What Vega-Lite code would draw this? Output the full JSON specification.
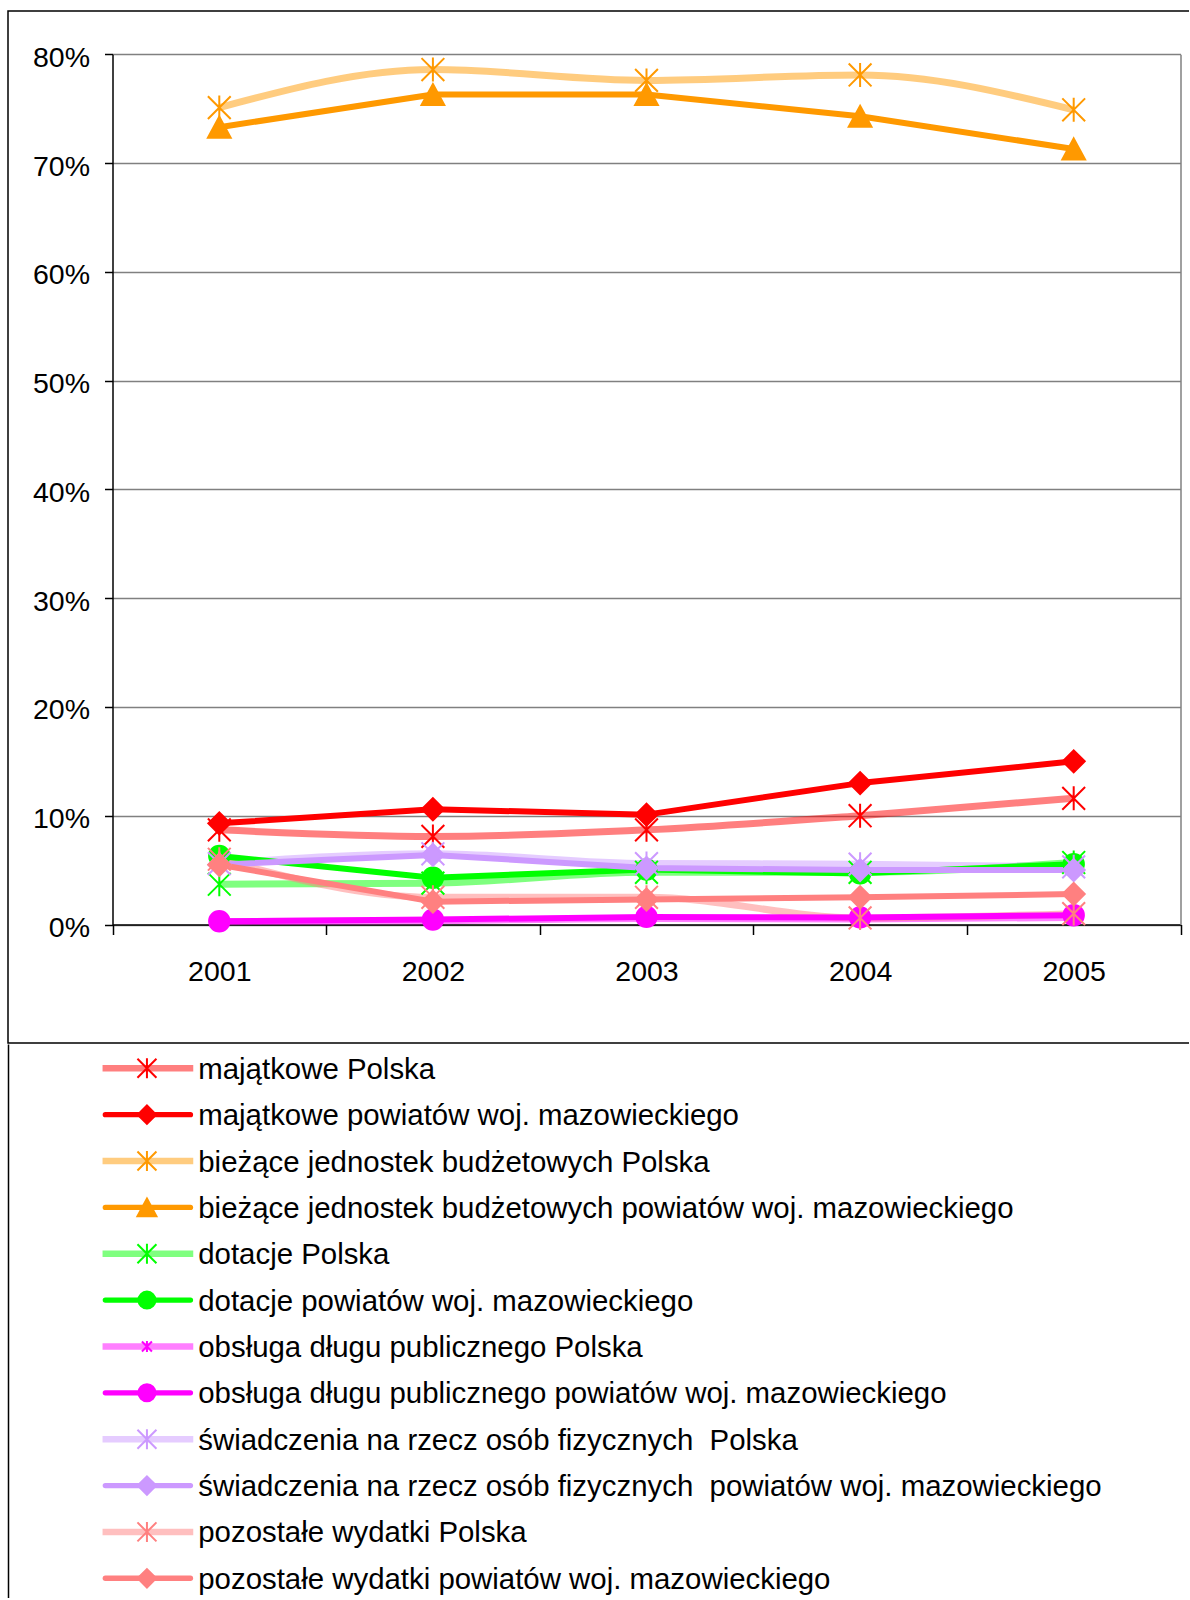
{
  "$schema": "https://vega.github.io/schema/vega-lite/v6.json",
  "padding": {"left": 7, "top": 10, "right": 0, "bottom": 0},
  "autosize": {"type": "pad"},
  "background": "white",
  "spacing": 0,
  "config": {"font": "Liberation Sans", "legend": {"disable": true}, "view": {"stroke": null}},
  "datasets": {
    "d": [
      {"series": "majątkowe Polska", "group": "Polska", "year": 2001, "value": 0.087},
      {"series": "majątkowe Polska", "group": "Polska", "year": 2002, "value": 0.081},
      {"series": "majątkowe Polska", "group": "Polska", "year": 2003, "value": 0.087},
      {"series": "majątkowe Polska", "group": "Polska", "year": 2004, "value": 0.100},
      {"series": "majątkowe Polska", "group": "Polska", "year": 2005, "value": 0.116},
      {"series": "majątkowe powiatów woj. mazowieckiego", "group": "powiat", "year": 2001, "value": 0.093},
      {"series": "majątkowe powiatów woj. mazowieckiego", "group": "powiat", "year": 2002, "value": 0.106},
      {"series": "majątkowe powiatów woj. mazowieckiego", "group": "powiat", "year": 2003, "value": 0.101},
      {"series": "majątkowe powiatów woj. mazowieckiego", "group": "powiat", "year": 2004, "value": 0.130},
      {"series": "majątkowe powiatów woj. mazowieckiego", "group": "powiat", "year": 2005, "value": 0.150},
      {"series": "bieżące jednostek budżetowych Polska", "group": "Polska", "year": 2001, "value": 0.751},
      {"series": "bieżące jednostek budżetowych Polska", "group": "Polska", "year": 2002, "value": 0.786},
      {"series": "bieżące jednostek budżetowych Polska", "group": "Polska", "year": 2003, "value": 0.776},
      {"series": "bieżące jednostek budżetowych Polska", "group": "Polska", "year": 2004, "value": 0.781},
      {"series": "bieżące jednostek budżetowych Polska", "group": "Polska", "year": 2005, "value": 0.749},
      {"series": "bieżące jednostek budżetowych powiatów woj. mazowieckiego", "group": "powiat", "year": 2001, "value": 0.733},
      {"series": "bieżące jednostek budżetowych powiatów woj. mazowieckiego", "group": "powiat", "year": 2002, "value": 0.763},
      {"series": "bieżące jednostek budżetowych powiatów woj. mazowieckiego", "group": "powiat", "year": 2003, "value": 0.763},
      {"series": "bieżące jednostek budżetowych powiatów woj. mazowieckiego", "group": "powiat", "year": 2004, "value": 0.743},
      {"series": "bieżące jednostek budżetowych powiatów woj. mazowieckiego", "group": "powiat", "year": 2005, "value": 0.713},
      {"series": "dotacje Polska", "group": "Polska", "year": 2001, "value": 0.037},
      {"series": "dotacje Polska", "group": "Polska", "year": 2002, "value": 0.038},
      {"series": "dotacje Polska", "group": "Polska", "year": 2003, "value": 0.048},
      {"series": "dotacje Polska", "group": "Polska", "year": 2004, "value": 0.048},
      {"series": "dotacje Polska", "group": "Polska", "year": 2005, "value": 0.057},
      {"series": "dotacje powiatów woj. mazowieckiego", "group": "powiat", "year": 2001, "value": 0.063},
      {"series": "dotacje powiatów woj. mazowieckiego", "group": "powiat", "year": 2002, "value": 0.043},
      {"series": "dotacje powiatów woj. mazowieckiego", "group": "powiat", "year": 2003, "value": 0.0505},
      {"series": "dotacje powiatów woj. mazowieckiego", "group": "powiat", "year": 2004, "value": 0.047},
      {"series": "dotacje powiatów woj. mazowieckiego", "group": "powiat", "year": 2005, "value": 0.0555},
      {"series": "obsługa długu publicznego Polska", "group": "Polska", "year": 2001, "value": 0.0025},
      {"series": "obsługa długu publicznego Polska", "group": "Polska", "year": 2002, "value": 0.0035},
      {"series": "obsługa długu publicznego Polska", "group": "Polska", "year": 2003, "value": 0.0055},
      {"series": "obsługa długu publicznego Polska", "group": "Polska", "year": 2004, "value": 0.005},
      {"series": "obsługa długu publicznego Polska", "group": "Polska", "year": 2005, "value": 0.0065},
      {"series": "obsługa długu publicznego powiatów woj. mazowieckiego", "group": "powiat", "year": 2001, "value": 0.003},
      {"series": "obsługa długu publicznego powiatów woj. mazowieckiego", "group": "powiat", "year": 2002, "value": 0.0045},
      {"series": "obsługa długu publicznego powiatów woj. mazowieckiego", "group": "powiat", "year": 2003, "value": 0.007},
      {"series": "obsługa długu publicznego powiatów woj. mazowieckiego", "group": "powiat", "year": 2004, "value": 0.0065},
      {"series": "obsługa długu publicznego powiatów woj. mazowieckiego", "group": "powiat", "year": 2005, "value": 0.0085},
      {"series": "świadczenia na rzecz osób fizycznych\u00a0 Polska", "group": "Polska", "year": 2001, "value": 0.056},
      {"series": "świadczenia na rzecz osób fizycznych\u00a0 Polska", "group": "Polska", "year": 2002, "value": 0.065},
      {"series": "świadczenia na rzecz osób fizycznych\u00a0 Polska", "group": "Polska", "year": 2003, "value": 0.056},
      {"series": "świadczenia na rzecz osób fizycznych\u00a0 Polska", "group": "Polska", "year": 2004, "value": 0.0555},
      {"series": "świadczenia na rzecz osób fizycznych\u00a0 Polska", "group": "Polska", "year": 2005, "value": 0.053},
      {"series": "świadczenia na rzecz osób fizycznych\u00a0 powiatów woj. mazowieckiego", "group": "powiat", "year": 2001, "value": 0.055},
      {"series": "świadczenia na rzecz osób fizycznych\u00a0 powiatów woj. mazowieckiego", "group": "powiat", "year": 2002, "value": 0.064},
      {"series": "świadczenia na rzecz osób fizycznych\u00a0 powiatów woj. mazowieckiego", "group": "powiat", "year": 2003, "value": 0.052},
      {"series": "świadczenia na rzecz osób fizycznych\u00a0 powiatów woj. mazowieckiego", "group": "powiat", "year": 2004, "value": 0.050},
      {"series": "świadczenia na rzecz osób fizycznych\u00a0 powiatów woj. mazowieckiego", "group": "powiat", "year": 2005, "value": 0.050},
      {"series": "pozostałe wydatki Polska", "group": "Polska", "year": 2001, "value": 0.060},
      {"series": "pozostałe wydatki Polska", "group": "Polska", "year": 2002, "value": 0.025},
      {"series": "pozostałe wydatki Polska", "group": "Polska", "year": 2003, "value": 0.025},
      {"series": "pozostałe wydatki Polska", "group": "Polska", "year": 2004, "value": 0.006},
      {"series": "pozostałe wydatki Polska", "group": "Polska", "year": 2005, "value": 0.010},
      {"series": "pozostałe wydatki powiatów woj. mazowieckiego", "group": "powiat", "year": 2001, "value": 0.055},
      {"series": "pozostałe wydatki powiatów woj. mazowieckiego", "group": "powiat", "year": 2002, "value": 0.021},
      {"series": "pozostałe wydatki powiatów woj. mazowieckiego", "group": "powiat", "year": 2003, "value": 0.023},
      {"series": "pozostałe wydatki powiatów woj. mazowieckiego", "group": "powiat", "year": 2004, "value": 0.025},
      {"series": "pozostałe wydatki powiatów woj. mazowieckiego", "group": "powiat", "year": 2005, "value": 0.028}
    ]
  },
  "vconcat": [
    {
      "width": 1181,
      "height": 1032,
      "view": {"stroke": "#000000", "strokeWidth": 1.5, "strokeDash": [1181, 1032, 2300, 0]},
      "data": {"name": "d"},
      "layer": [
        {
          "transform": [{"filter": "datum.group == 'Polska'"}],
          "mark": {"type": "line", "strokeWidth": 7, "opacity": 0.5, "interpolate": "monotone", "strokeCap": "butt"},
          "encoding": {
            "x": {"field": "year", "type": "ordinal", "bandPosition": 0.5,
              "scale": {"type": "band", "paddingInner": 0, "paddingOuter": 0, "range": [104.5, 1172.5]},
              "axis": {"orient": "bottom", "offset": -118.5, "tickBand": "extent", "domainColor": "#000000", "domainWidth": 1.5, "tickColor": "#000000", "tickSize": 10, "tickWidth": 1.5, "labelFont": "Liberation Sans", "labelFontSize": 28.5, "labelColor": "#000000", "labelPadding": 23, "labelAngle": 0, "grid": false, "title": null}},
            "y": {"field": "value", "type": "quantitative",
              "scale": {"domain": [0, 0.8], "range": [913.5, 43.3], "nice": false, "zero": false},
              "axis": {"orient": "left", "offset": -104.5, "values": [0, 0.1, 0.2, 0.3, 0.4, 0.5, 0.6, 0.7, 0.8], "format": ".0%", "domainColor": "#000000", "domainWidth": 1.5, "tickColor": "#000000", "tickSize": 8, "tickWidth": 1.5, "labelFont": "Liberation Sans", "labelFontSize": 28.5, "labelColor": "#000000", "labelPadding": 15, "labelOffset": 3, "labelFlush": false, "labelOverlap": false, "grid": true, "gridColor": "#808080", "gridWidth": 1.5, "title": null}},
            "color": {"field": "series", "type": "nominal",
              "scale": {"domain": ["majątkowe Polska", "majątkowe powiatów woj. mazowieckiego", "bieżące jednostek budżetowych Polska", "bieżące jednostek budżetowych powiatów woj. mazowieckiego", "dotacje Polska", "dotacje powiatów woj. mazowieckiego", "obsługa długu publicznego Polska", "obsługa długu publicznego powiatów woj. mazowieckiego", "świadczenia na rzecz osób fizycznych\u00a0 Polska", "świadczenia na rzecz osób fizycznych\u00a0 powiatów woj. mazowieckiego", "pozostałe wydatki Polska", "pozostałe wydatki powiatów woj. mazowieckiego"],
                "range": ["#FF0000", "#FF0000", "#FF9900", "#FF9900", "#00FF00", "#00FF00", "#FF00FF", "#FF00FF", "#CC99FF", "#CC99FF", "#FF8080", "#FF8080"]}}
          }
        },
        {
          "transform": [{"filter": "datum.group == 'powiat'"}],
          "mark": {"type": "line", "strokeWidth": 6, "interpolate": "linear", "strokeCap": "round", "strokeJoin": "round"},
          "encoding": {
            "x": {"field": "year", "type": "ordinal", "bandPosition": 0.5,
              "scale": {"type": "band", "paddingInner": 0, "paddingOuter": 0, "range": [104.5, 1172.5]},
              "axis": {"orient": "bottom", "offset": -118.5, "tickBand": "extent", "domainColor": "#000000", "domainWidth": 1.5, "tickColor": "#000000", "tickSize": 10, "tickWidth": 1.5, "labelFont": "Liberation Sans", "labelFontSize": 28.5, "labelColor": "#000000", "labelPadding": 23, "labelAngle": 0, "grid": false, "title": null}},
            "y": {"field": "value", "type": "quantitative",
              "scale": {"domain": [0, 0.8], "range": [913.5, 43.3], "nice": false, "zero": false},
              "axis": {"orient": "right", "offset": -8.5, "domain": true, "domainColor": "#808080", "domainWidth": 1.5, "ticks": false, "labels": false, "grid": false, "title": null}},
            "color": {"field": "series", "type": "nominal",
              "scale": {"domain": ["majątkowe Polska", "majątkowe powiatów woj. mazowieckiego", "bieżące jednostek budżetowych Polska", "bieżące jednostek budżetowych powiatów woj. mazowieckiego", "dotacje Polska", "dotacje powiatów woj. mazowieckiego", "obsługa długu publicznego Polska", "obsługa długu publicznego powiatów woj. mazowieckiego", "świadczenia na rzecz osób fizycznych\u00a0 Polska", "świadczenia na rzecz osób fizycznych\u00a0 powiatów woj. mazowieckiego", "pozostałe wydatki Polska", "pozostałe wydatki powiatów woj. mazowieckiego"],
                "range": ["#FF0000", "#FF0000", "#FF9900", "#FF9900", "#00FF00", "#00FF00", "#FF00FF", "#FF00FF", "#CC99FF", "#CC99FF", "#FF8080", "#FF8080"]}}
          }
        },
        {
          "mark": {"type": "point", "size": 576, "strokeWidth": 2, "opacity": 1, "fillOpacity": 1, "filled": false},
          "encoding": {
            "x": {"field": "year", "type": "ordinal", "bandPosition": 0.5,
              "scale": {"type": "band", "paddingInner": 0, "paddingOuter": 0, "range": [104.5, 1172.5]},
              "axis": {"orient": "bottom", "offset": -118.5, "tickBand": "extent", "domainColor": "#000000", "domainWidth": 1.5, "tickColor": "#000000", "tickSize": 10, "tickWidth": 1.5, "labelFont": "Liberation Sans", "labelFontSize": 28.5, "labelColor": "#000000", "labelPadding": 23, "labelAngle": 0, "grid": false, "title": null}},
            "y": {"field": "value", "type": "quantitative",
              "scale": {"domain": [0, 0.8], "range": [913.5, 43.3], "nice": false, "zero": false},
              "axis": null},
            "shape": {"field": "series", "type": "nominal",
              "scale": {"domain": ["majątkowe Polska", "majątkowe powiatów woj. mazowieckiego", "bieżące jednostek budżetowych Polska", "bieżące jednostek budżetowych powiatów woj. mazowieckiego", "dotacje Polska", "dotacje powiatów woj. mazowieckiego", "obsługa długu publicznego Polska", "obsługa długu publicznego powiatów woj. mazowieckiego", "świadczenia na rzecz osób fizycznych\u00a0 Polska", "świadczenia na rzecz osób fizycznych\u00a0 powiatów woj. mazowieckiego", "pozostałe wydatki Polska", "pozostałe wydatki powiatów woj. mazowieckiego"],
                "range": [
                  "M0,-1V1M-0.95,-0.95L0.95,0.95M-0.95,0.95L0.95,-0.95",
                  "M-0.92,0L0,-0.92L0.92,0L0,0.92Z",
                  "M0,-1V1M-0.95,-0.95L0.95,0.95M-0.95,0.95L0.95,-0.95",
                  "M0,-0.88L0.95,0.88L-0.95,0.88Z",
                  "M0,-1V1M-0.95,-0.95L0.95,0.95M-0.95,0.95L0.95,-0.95",
                  "M-0.85,0A0.85,0.85,0,1,1,0.85,0A0.85,0.85,0,1,1,-0.85,0Z",
                  "M0,-0.55V0.55M-0.5,-0.5L0.5,0.5M-0.5,0.5L0.5,-0.5",
                  "M-0.85,0A0.85,0.85,0,1,1,0.85,0A0.85,0.85,0,1,1,-0.85,0Z",
                  "M0,-1V1M-0.95,-0.95L0.95,0.95M-0.95,0.95L0.95,-0.95",
                  "M-0.92,0L0,-0.92L0.92,0L0,0.92Z",
                  "M0,-1V1M-0.95,-0.95L0.95,0.95M-0.95,0.95L0.95,-0.95",
                  "M-0.92,0L0,-0.92L0.92,0L0,0.92Z"
                ]}},
            "fill": {"field": "series", "type": "nominal",
              "scale": {"domain": ["majątkowe Polska", "majątkowe powiatów woj. mazowieckiego", "bieżące jednostek budżetowych Polska", "bieżące jednostek budżetowych powiatów woj. mazowieckiego", "dotacje Polska", "dotacje powiatów woj. mazowieckiego", "obsługa długu publicznego Polska", "obsługa długu publicznego powiatów woj. mazowieckiego", "świadczenia na rzecz osób fizycznych\u00a0 Polska", "świadczenia na rzecz osób fizycznych\u00a0 powiatów woj. mazowieckiego", "pozostałe wydatki Polska", "pozostałe wydatki powiatów woj. mazowieckiego"],
                "range": ["#FF0000", "#FF0000", "#FF9900", "#FF9900", "#00FF00", "#00FF00", "#FF00FF", "#FF00FF", "#CC99FF", "#CC99FF", "#FF8080", "#FF8080"]}},
            "stroke": {"field": "series", "type": "nominal",
              "scale": {"domain": ["majątkowe Polska", "majątkowe powiatów woj. mazowieckiego", "bieżące jednostek budżetowych Polska", "bieżące jednostek budżetowych powiatów woj. mazowieckiego", "dotacje Polska", "dotacje powiatów woj. mazowieckiego", "obsługa długu publicznego Polska", "obsługa długu publicznego powiatów woj. mazowieckiego", "świadczenia na rzecz osób fizycznych\u00a0 Polska", "świadczenia na rzecz osób fizycznych\u00a0 powiatów woj. mazowieckiego", "pozostałe wydatki Polska", "pozostałe wydatki powiatów woj. mazowieckiego"],
                "range": ["#FF0000", "#FF0000", "#FF9900", "#FF9900", "#00FF00", "#00FF00", "#FF00FF", "#FF00FF", "#CC99FF", "#CC99FF", "#FF8080", "#FF8080"]}}
          }
        }
      ],
      "resolve": {"axis": {"y": "independent"}}
    },
    {
      "width": 1181,
      "height": 554,
      "data": {"name": "d"},
      "transform": [{"filter": "datum.year == 2001"}],
      "encoding": {
        "y": {"field": "series", "type": "nominal",
          "scale": {"type": "point", "padding": 0.475, "align": 0.552,
            "domain": ["majątkowe Polska", "majątkowe powiatów woj. mazowieckiego", "bieżące jednostek budżetowych Polska", "bieżące jednostek budżetowych powiatów woj. mazowieckiego", "dotacje Polska", "dotacje powiatów woj. mazowieckiego", "obsługa długu publicznego Polska", "obsługa długu publicznego powiatów woj. mazowieckiego", "świadczenia na rzecz osób fizycznych\u00a0 Polska", "świadczenia na rzecz osób fizycznych\u00a0 powiatów woj. mazowieckiego", "pozostałe wydatki Polska", "pozostałe wydatki powiatów woj. mazowieckiego"]},
          "axis": {"orient": "left", "domain": true, "domainColor": "#000000", "domainWidth": 1.5, "ticks": false, "labels": false, "grid": false, "title": null}}
      },
      "layer": [
        {
          "transform": [{"filter": "datum.group == 'Polska'"}],
          "mark": {"type": "rule", "strokeWidth": 6.5, "opacity": 0.5, "strokeCap": "butt"},
          "encoding": {
            "x": {"datum": 8.006, "type": "quantitative", "scale": {"domain": [0, 100], "nice": false, "zero": false}, "axis": null},
            "x2": {"datum": 15.686},
            "color": {"field": "series", "type": "nominal",
              "scale": {"domain": ["majątkowe Polska", "majątkowe powiatów woj. mazowieckiego", "bieżące jednostek budżetowych Polska", "bieżące jednostek budżetowych powiatów woj. mazowieckiego", "dotacje Polska", "dotacje powiatów woj. mazowieckiego", "obsługa długu publicznego Polska", "obsługa długu publicznego powiatów woj. mazowieckiego", "świadczenia na rzecz osób fizycznych\u00a0 Polska", "świadczenia na rzecz osób fizycznych\u00a0 powiatów woj. mazowieckiego", "pozostałe wydatki Polska", "pozostałe wydatki powiatów woj. mazowieckiego"],
                "range": ["#FF0000", "#FF0000", "#FF9900", "#FF9900", "#00FF00", "#00FF00", "#FF00FF", "#FF00FF", "#CC99FF", "#CC99FF", "#FF8080", "#FF8080"]}}
          }
        },
        {
          "transform": [{"filter": "datum.group == 'powiat'"}],
          "mark": {"type": "rule", "strokeWidth": 5.3, "strokeCap": "round"},
          "encoding": {
            "x": {"datum": 8.24, "type": "quantitative", "scale": {"domain": [0, 100], "nice": false, "zero": false}, "axis": null},
            "x2": {"datum": 15.45},
            "color": {"field": "series", "type": "nominal",
              "scale": {"domain": ["majątkowe Polska", "majątkowe powiatów woj. mazowieckiego", "bieżące jednostek budżetowych Polska", "bieżące jednostek budżetowych powiatów woj. mazowieckiego", "dotacje Polska", "dotacje powiatów woj. mazowieckiego", "obsługa długu publicznego Polska", "obsługa długu publicznego powiatów woj. mazowieckiego", "świadczenia na rzecz osób fizycznych\u00a0 Polska", "świadczenia na rzecz osób fizycznych\u00a0 powiatów woj. mazowieckiego", "pozostałe wydatki Polska", "pozostałe wydatki powiatów woj. mazowieckiego"],
                "range": ["#FF0000", "#FF0000", "#FF9900", "#FF9900", "#00FF00", "#00FF00", "#FF00FF", "#FF00FF", "#CC99FF", "#CC99FF", "#FF8080", "#FF8080"]}}
          }
        },
        {
          "mark": {"type": "point", "size": 400, "strokeWidth": 2, "opacity": 1, "fillOpacity": 1, "filled": false},
          "encoding": {
            "x": {"datum": 11.765, "type": "quantitative", "scale": {"domain": [0, 100], "nice": false, "zero": false}, "axis": null},
            "shape": {"field": "series", "type": "nominal",
              "scale": {"domain": ["majątkowe Polska", "majątkowe powiatów woj. mazowieckiego", "bieżące jednostek budżetowych Polska", "bieżące jednostek budżetowych powiatów woj. mazowieckiego", "dotacje Polska", "dotacje powiatów woj. mazowieckiego", "obsługa długu publicznego Polska", "obsługa długu publicznego powiatów woj. mazowieckiego", "świadczenia na rzecz osób fizycznych\u00a0 Polska", "świadczenia na rzecz osób fizycznych\u00a0 powiatów woj. mazowieckiego", "pozostałe wydatki Polska", "pozostałe wydatki powiatów woj. mazowieckiego"],
                "range": [
                  "M0,-1V1M-0.95,-0.95L0.95,0.95M-0.95,0.95L0.95,-0.95",
                  "M-0.92,0L0,-0.92L0.92,0L0,0.92Z",
                  "M0,-1V1M-0.95,-0.95L0.95,0.95M-0.95,0.95L0.95,-0.95",
                  "M0,-0.88L0.95,0.88L-0.95,0.88Z",
                  "M0,-1V1M-0.95,-0.95L0.95,0.95M-0.95,0.95L0.95,-0.95",
                  "M-0.85,0A0.85,0.85,0,1,1,0.85,0A0.85,0.85,0,1,1,-0.85,0Z",
                  "M0,-0.55V0.55M-0.5,-0.5L0.5,0.5M-0.5,0.5L0.5,-0.5",
                  "M-0.85,0A0.85,0.85,0,1,1,0.85,0A0.85,0.85,0,1,1,-0.85,0Z",
                  "M0,-1V1M-0.95,-0.95L0.95,0.95M-0.95,0.95L0.95,-0.95",
                  "M-0.92,0L0,-0.92L0.92,0L0,0.92Z",
                  "M0,-1V1M-0.95,-0.95L0.95,0.95M-0.95,0.95L0.95,-0.95",
                  "M-0.92,0L0,-0.92L0.92,0L0,0.92Z"
                ]}},
            "fill": {"field": "series", "type": "nominal",
              "scale": {"domain": ["majątkowe Polska", "majątkowe powiatów woj. mazowieckiego", "bieżące jednostek budżetowych Polska", "bieżące jednostek budżetowych powiatów woj. mazowieckiego", "dotacje Polska", "dotacje powiatów woj. mazowieckiego", "obsługa długu publicznego Polska", "obsługa długu publicznego powiatów woj. mazowieckiego", "świadczenia na rzecz osób fizycznych\u00a0 Polska", "świadczenia na rzecz osób fizycznych\u00a0 powiatów woj. mazowieckiego", "pozostałe wydatki Polska", "pozostałe wydatki powiatów woj. mazowieckiego"],
                "range": ["#FF0000", "#FF0000", "#FF9900", "#FF9900", "#00FF00", "#00FF00", "#FF00FF", "#FF00FF", "#CC99FF", "#CC99FF", "#FF8080", "#FF8080"]}},
            "stroke": {"field": "series", "type": "nominal",
              "scale": {"domain": ["majątkowe Polska", "majątkowe powiatów woj. mazowieckiego", "bieżące jednostek budżetowych Polska", "bieżące jednostek budżetowych powiatów woj. mazowieckiego", "dotacje Polska", "dotacje powiatów woj. mazowieckiego", "obsługa długu publicznego Polska", "obsługa długu publicznego powiatów woj. mazowieckiego", "świadczenia na rzecz osób fizycznych\u00a0 Polska", "świadczenia na rzecz osób fizycznych\u00a0 powiatów woj. mazowieckiego", "pozostałe wydatki Polska", "pozostałe wydatki powiatów woj. mazowieckiego"],
                "range": ["#FF0000", "#FF0000", "#FF9900", "#FF9900", "#00FF00", "#00FF00", "#FF00FF", "#FF00FF", "#CC99FF", "#CC99FF", "#FF8080", "#FF8080"]}}
          }
        },
        {
          "mark": {"type": "text", "align": "left", "baseline": "middle", "font": "Liberation Sans", "fontSize": 29.4, "color": "#000000", "dy": 1.5},
          "encoding": {
            "x": {"datum": 16.11, "type": "quantitative", "scale": {"domain": [0, 100], "nice": false, "zero": false}, "axis": null},
            "text": {"field": "series", "type": "nominal"}
          }
        }
      ]
    }
  ]
}
